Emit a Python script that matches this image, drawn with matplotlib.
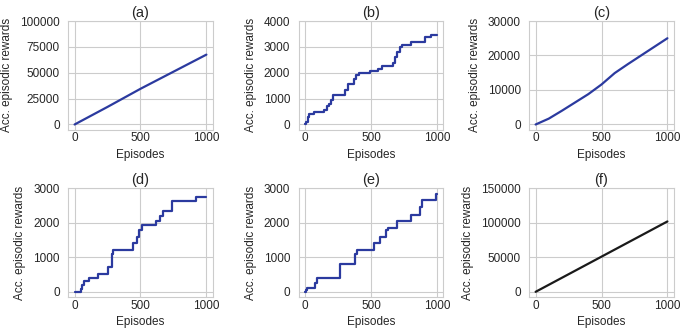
import matplotlib
matplotlib.use("Agg")
import matplotlib.pyplot as plt
import seaborn as sns

sns.set_style("whitegrid")
plt.rcParams['font.family'] = ['Liberation Sans', 'DejaVu Sans']

# (a) roughly linear
a_ep = [0, 250, 500, 750, 1000]
a_rew = [0, 17000, 34500, 51000, 67500]

# (b) step curve: episode where the step happens, value after it
b_ep = [0, 10, 20, 33, 71, 140, 165, 180, 198, 215, 300, 326, 371, 389, 410, 491,
        555, 580, 669, 682, 700, 720, 733, 804, 911, 957, 1000]
b_rew = [0, 100, 300, 390, 480, 560, 700, 810, 960, 1140, 1350, 1550, 1740, 1900, 1980, 2060,
         2130, 2250, 2380, 2600, 2800, 3000, 3060, 3180, 3380, 3460, 3460]

# (c) nearly linear
c_ep = [0, 100, 200, 300, 400, 500, 600, 700, 800, 900, 1000]
c_rew = [0, 1700, 4000, 6400, 8800, 11600, 14900, 17500, 20000, 22500, 25000]

# (d) step curve
d_ep = [0, 45, 55, 75, 108, 175, 250, 283, 295, 445, 475, 490, 508, 620, 645, 670, 740, 920, 1000]
d_rew = [0, 80, 190, 300, 410, 510, 730, 1100, 1200, 1410, 1580, 1800, 1930, 2040, 2200, 2340,
         2640, 2750, 2750]

# (e) step curve
e_ep = [0, 5, 13, 76, 90, 261, 380, 395, 524, 570, 613, 628, 700, 805, 873, 886, 990, 1000]
e_rew = [0, 50, 120, 250, 400, 820, 1100, 1200, 1410, 1600, 1800, 1850, 2040, 2240, 2450, 2650,
         2850, 2850]

# (f) linear
f_ep = [0, 1000]
f_rew = [0, 102000]

panels = [
    ("(a)", a_ep, a_rew, 100000, [0, 25000, 50000, 75000, 100000], "default", "#2b3a9f"),
    ("(b)", b_ep, b_rew, 4000, [0, 1000, 2000, 3000, 4000], "steps-post", "#2b3a9f"),
    ("(c)", c_ep, c_rew, 30000, [0, 10000, 20000, 30000], "default", "#2b3a9f"),
    ("(d)", d_ep, d_rew, 3000, [0, 1000, 2000, 3000], "steps-post", "#2b3a9f"),
    ("(e)", e_ep, e_rew, 3000, [0, 1000, 2000, 3000], "steps-post", "#2b3a9f"),
    ("(f)", f_ep, f_rew, 150000, [0, 50000, 100000, 150000], "default", "#1a1a1a"),
]

fig, axes = plt.subplots(2, 3, figsize=(6.85, 3.33), dpi=100)
fig.subplots_adjust(left=68/685, right=674/685, top=1-21/333, bottom=1-297/333,
                    wspace=0.59, hspace=0.54)

for ax, (title, ep, rew, ytop, yticks, ds, color) in zip(axes.flat, panels):
    ax.plot(ep, rew, color=color, lw=1.6, drawstyle=ds)
    ax.set_xlim(-50, 1050)
    ax.set_ylim(-0.05 * ytop, ytop)
    ax.set_xticks([0, 500, 1000])
    ax.set_yticks(yticks)
    ax.set_title(title, fontsize=10.5, pad=3)
    ax.set_xlabel("Episodes", fontsize=8.5, labelpad=3)
    ax.set_ylabel("Acc. episodic rewards", fontsize=8.5, labelpad=5)
    ax.tick_params(axis="x", length=0, labelsize=8.5, pad=2, colors="#262626")
    ax.tick_params(axis="y", length=0, labelsize=8.5, pad=6, colors="#262626")
    for s in ax.spines.values():
        s.set_color("#cccccc")

fig.savefig("out.png", dpi=100)
